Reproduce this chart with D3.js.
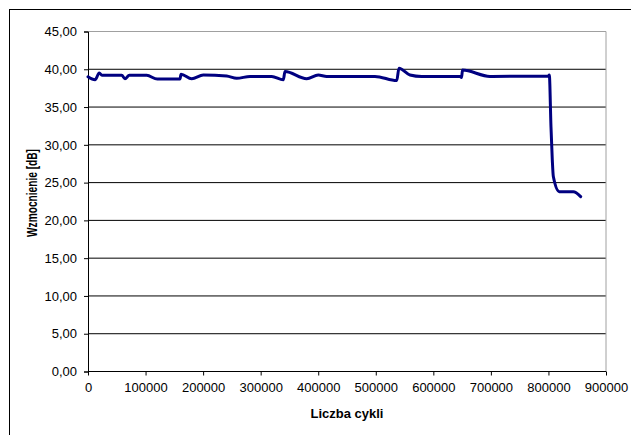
<!DOCTYPE html>
<html><head><meta charset="utf-8">
<script src="https://cdn.jsdelivr.net/npm/d3@7"></script>
<style>body{margin:0;background:#fff;}svg{display:block;font-family:Arial,"Liberation Sans",sans-serif;}</style>
</head><body>
<svg id="c" width="631" height="435"></svg>
<script>
const cycles = [0,12200,19600,24300,58600,64300,71800,102000,120400,159800,161600,180200,200300,241000,258400,281500,319200,339300,342300,380000,400100,414700,498600,536400,540300,559400,579800,646300,649000,650700,698400,799800,801500,804400,806700,808500,818900,843200,856000];
const gain = [39.0,38.6,39.5,39.2,39.2,38.75,39.2,39.2,38.7,38.7,39.35,38.75,39.25,39.1,38.8,39.05,39.05,38.6,39.7,38.75,39.25,39.05,39.05,38.5,40.15,39.25,39.05,39.05,38.9,39.9,39.05,39.1,39.25,32.4,28.0,25.8,23.8,23.8,23.15];
const xTicks = [0,100000,200000,300000,400000,500000,600000,700000,800000,900000];
const yTicks = [0,5,10,15,20,25,30,35,40,45];
const xTitle = "Liczba cykli";
const yTitle = "Wzmocnienie [dB]";

const svg = d3.select("#c");
const L = 88, T = 31.5, W = 518, H = 340;
const x = d3.scaleLinear().domain([0,900000]).range([L, L+W]);
const y = d3.scaleLinear().domain([0,45]).range([T+H, T]);

svg.append("rect").attr("x",9.5).attr("y",9.5).attr("width",640).attr("height",440)
  .attr("fill","#fff").attr("stroke","#000").attr("stroke-width",1);

svg.append("g").selectAll("line").data(yTicks.filter(d=>d>0&&d<45)).join("line")
  .attr("x1",L).attr("x2",L+W).attr("y1",d=>y(d)).attr("y2",d=>y(d))
  .attr("stroke","#000").attr("stroke-width",1);
svg.append("path").attr("d",`M${L},${T}H${L+W}V${T+H}`).attr("fill","none").attr("stroke","#a0a0a0").attr("stroke-width",1);

const yAxis = d3.axisLeft(y).tickValues(yTicks).tickSize(4).tickPadding(7)
  .tickFormat(d=>d3.format(".2f")(d).replace(".",","));
const gy = svg.append("g").attr("transform",`translate(${L},0)`).call(yAxis);
const xAxis = d3.axisBottom(x).tickValues(xTicks).tickSize(4).tickPadding(7).tickFormat(d=>String(d));
const gx = svg.append("g").attr("transform",`translate(0,${T+H})`).call(xAxis);
[gx,gy].forEach(g=>{
  g.select(".domain").attr("stroke","#000");
  g.selectAll(".tick line").attr("stroke","#000");
  g.selectAll("text").attr("fill","#000").style("font-size","13px").style("font-family","Arial,'Liberation Sans',sans-serif");
});
gx.select(".domain").attr("d",`M${L},0H${L+W}`);

const line = d3.line().x((d,i)=>x(cycles[i])).y((d,i)=>y(gain[i])).curve(d3.curveMonotoneX);
svg.append("path").datum(gain).attr("d",line).attr("fill","none")
  .attr("stroke","#000080").attr("stroke-width",3).attr("stroke-linejoin","round").attr("stroke-linecap","round");

svg.append("text").attr("x",L+W/2).attr("y",418).attr("text-anchor","middle")
  .style("font-size","13px").style("font-weight","bold").text(xTitle);
svg.append("text").attr("transform","translate(37,193) rotate(-90)").attr("text-anchor","middle")
  .style("font-size","14px").style("font-weight","bold")
  .attr("textLength",88).attr("lengthAdjust","spacingAndGlyphs").text(yTitle);
</script>
</body></html>
